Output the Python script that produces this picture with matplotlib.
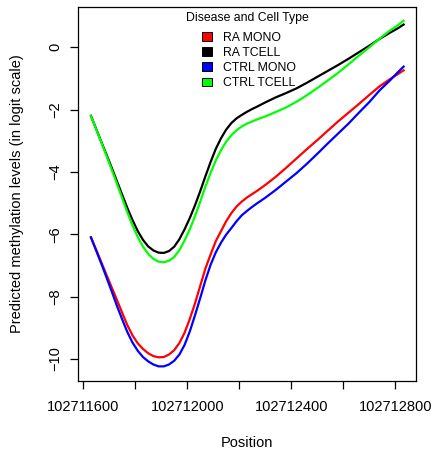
import matplotlib
matplotlib.use("Agg")
import matplotlib.pyplot as plt
from matplotlib.patches import Patch

plt.rcParams['font.family'] = ['Liberation Sans', 'DejaVu Sans']

# genomic positions (offset from 102710000) and fitted logit values
pos_offset = [1630, 1650, 1670, 1690, 1710, 1730, 1750, 1770, 1790, 1810,
              1830, 1850, 1870, 1890, 1910, 1930, 1950, 1970, 1990, 2010,
              2030, 2050, 2070, 2090, 2110, 2130, 2150, 2170, 2190, 2210,
              2230, 2250, 2270, 2300, 2340, 2380, 2420, 2460, 2500, 2540,
              2580, 2620, 2660, 2700, 2740, 2780, 2810, 2832]
position = [102710000 + p for p in pos_offset]

ra_mono = [-6.10, -6.50, -6.90, -7.31, -7.71, -8.11, -8.52, -8.92, -9.25, -9.50,
           -9.68, -9.82, -9.91, -9.95, -9.94, -9.86, -9.72, -9.49, -9.16, -8.72,
           -8.22, -7.66, -7.10, -6.65, -6.22, -5.90, -5.58, -5.32, -5.11, -4.95,
           -4.82, -4.71, -4.60, -4.42, -4.16, -3.87, -3.57, -3.27, -2.98, -2.68,
           -2.38, -2.10, -1.82, -1.53, -1.25, -1.02, -0.86, -0.74]
ra_tcell = [-2.20, -2.62, -3.04, -3.45, -3.87, -4.30, -4.73, -5.16, -5.55, -5.90,
            -6.18, -6.39, -6.52, -6.59, -6.60, -6.54, -6.40, -6.16, -5.84, -5.48,
            -5.07, -4.62, -4.14, -3.68, -3.26, -2.92, -2.64, -2.43, -2.28, -2.17,
            -2.07, -1.98, -1.90, -1.77, -1.61, -1.47, -1.32, -1.14, -0.95, -0.76,
            -0.57, -0.37, -0.16, 0.05, 0.27, 0.47, 0.61, 0.73]
ctrl_mono = [-6.10, -6.52, -6.95, -7.39, -7.84, -8.30, -8.73, -9.14, -9.48, -9.74,
             -9.94, -10.08, -10.18, -10.24, -10.24, -10.18, -10.06, -9.86, -9.55, -9.12,
             -8.60, -8.05, -7.48, -6.98, -6.58, -6.27, -6.01, -5.80, -5.58, -5.39,
             -5.25, -5.12, -5.00, -4.83, -4.58, -4.31, -4.04, -3.74, -3.42, -3.09,
             -2.77, -2.45, -2.10, -1.76, -1.38, -1.06, -0.80, -0.62]
ctrl_tcell = [-2.20, -2.63, -3.06, -3.49, -3.93, -4.38, -4.84, -5.30, -5.72, -6.09,
              -6.40, -6.63, -6.79, -6.88, -6.90, -6.85, -6.73, -6.51, -6.20, -5.84,
              -5.42, -4.96, -4.47, -4.03, -3.63, -3.30, -3.03, -2.82, -2.66, -2.54,
              -2.45, -2.38, -2.31, -2.22, -2.08, -1.93, -1.75, -1.54, -1.31, -1.07,
              -0.82, -0.55, -0.27, 0.00, 0.28, 0.54, 0.71, 0.85]

labels = ["RA MONO", "RA TCELL", "CTRL MONO", "CTRL TCELL"]
colors = ["#ff0000", "#000000", "#0000ff", "#00ff00"]
series = [ra_mono, ra_tcell, ctrl_mono, ctrl_tcell]

x_ticks = list(range(102711600, 102712801, 200))
x_ticklabels = [str(t) if (t - 102711600) % 400 == 0 else "" for t in x_ticks]
y_ticks = [-10, -8, -6, -4, -2, 0]

fig = plt.figure(figsize=(4.33, 4.5), dpi=100)
ax = fig.add_axes([0.180, 0.1533, 0.781, 0.831])

for vals, col in zip(series, colors):
    ax.plot(position, vals, color=col, lw=1.6, solid_joinstyle='round')

ax.set_xlim(102711580, 102712880)
ax.set_ylim(-10.71, 1.29)
ax.set_xticks(x_ticks)
ax.set_xticklabels(x_ticklabels)
ax.set_yticks(y_ticks)
ax.set_yticklabels([str(v).replace("-", "\u2212") for v in y_ticks],
                   rotation=90, va='center')

for s in ax.spines.values():
    s.set_linewidth(0.9)
ax.tick_params(direction='out', length=5.5, width=0.9, labelsize=10.5)
ax.tick_params(axis='x', pad=8)
ax.tick_params(axis='y', pad=6)

ax.set_xlabel("Position", fontsize=10.5, labelpad=16)
ax.set_ylabel("Predicted methylation levels (in logit scale)", fontsize=10.5, labelpad=17)

# legend (R style: no box, title centred above the keys)
ax.text(0.5, 0.972, "Disease and Cell Type", transform=ax.transAxes,
        ha='center', va='center', fontsize=8.8)
handles = [Patch(facecolor=c, edgecolor='black', linewidth=0.7) for c in colors]
ax.legend(handles, labels, loc='upper left', bbox_to_anchor=(0.368, 0.934),
          frameon=False, fontsize=8.8, handlelength=0.75, handleheight=0.75,
          handletextpad=0.9, labelspacing=0.26, borderaxespad=0, borderpad=0)

fig.savefig("out.png", dpi=100)
